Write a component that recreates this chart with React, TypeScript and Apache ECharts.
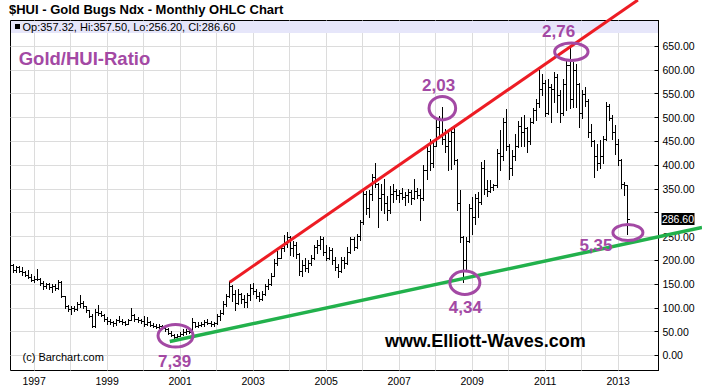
import React, { useEffect, useRef } from "react";
import * as echarts from "echarts";

// ---------- data (monthly bars, first bar = May 1996) ----------
const START_YEAR = 1996;
const START_MONTH = 5;
const AXIS_MIN = 0.25;
const AXIS_MAX = 213.25;

const open = [
  205, 190, 180, 186, 178, 175, 170, 165,
  158, 160, 161, 152, 145, 150, 143, 147, 142, 155, 125, 103,
  98, 100, 97, 108, 110, 103, 95, 84, 62, 92, 90, 86,
  76, 72, 70, 68, 74, 72, 70, 67, 75, 86, 76, 74,
  72, 66, 70, 64, 62, 60, 63, 57, 55, 48, 44, 38,
  42, 46, 50, 52, 50, 70, 62, 65, 66, 70, 68, 66,
  68, 84, 90, 108, 125, 145, 130, 110, 130, 118, 112, 128,
  142, 135, 125, 118, 130, 145, 150, 168, 195, 205, 225, 235,
  250, 225, 232, 214, 178, 190, 184, 194, 205, 228, 232, 244,
  218, 205, 222, 200, 185, 178, 200, 195, 218, 245, 228, 252,
  280, 340, 310, 340, 375, 360, 330, 340, 320, 305, 340, 345,
  338, 342, 333, 338, 344, 330, 345, 338, 330, 390, 430, 405,
  441, 480, 495, 455, 440, 450, 470, 410, 320, 250, 200, 240,
  310, 290, 330, 322, 395, 350, 345, 355, 358, 425, 420, 490,
  440, 395, 420, 440, 482, 470, 478, 450, 490, 515, 530, 560,
  573, 510, 565, 560, 585, 548, 510, 570, 610, 540, 600, 570,
  510, 550, 535, 470, 450, 420, 405, 420, 455, 525, 500, 470,
  445, 410, 360, 357.32,
];
const high = [
  214, 192, 189, 189, 186, 177, 179, 172,
  168, 182, 162, 156, 153, 152, 150, 150, 158, 157, 126, 106,
  104, 103, 112, 127, 115, 104, 96, 87, 98, 106, 93, 88,
  80, 77, 73, 77, 84, 76, 73, 77, 100, 88, 80, 77,
  84, 80, 73, 68, 66, 66, 64, 60, 58, 52, 46, 46,
  49, 56, 55, 56, 78, 71, 70, 70, 74, 77, 73, 70,
  88, 95, 115, 130, 157, 148, 137, 140, 132, 128, 132, 150,
  153, 140, 133, 136, 150, 160, 174, 202, 219, 229, 253, 260,
  252, 240, 238, 216, 200, 205, 200, 212, 232, 242, 252, 248,
  232, 228, 225, 207, 192, 207, 207, 228, 249, 248, 256, 285,
  350, 345, 347, 382, 404, 362, 360, 371, 335, 357, 360, 350,
  347, 352, 343, 350, 348, 371, 352, 350, 400, 440, 455, 452,
  494, 504, 522, 476, 469, 480, 478, 412, 347, 252, 249, 319,
  333, 340, 343, 406, 410, 368, 368, 361, 434, 473, 500, 518,
  445, 431, 466, 492, 502, 505, 480, 500, 520, 540, 599, 592,
  578, 581, 571, 595, 592, 557, 581, 620, 646, 616, 613, 572,
  557, 565, 540, 487, 452, 444, 452, 462, 532, 528, 505, 485,
  455, 412, 365, 357.5,
];
const low = [
  186, 176, 175, 176, 170, 166, 162, 156,
  154, 158, 148, 140, 142, 140, 134, 138, 140, 122, 100, 93,
  88, 94, 96, 101, 100, 92, 80, 59, 60, 85, 82, 73,
  67, 67, 63, 64, 70, 66, 64, 66, 74, 73, 70, 69,
  63, 65, 62, 60, 57, 57, 55, 52, 46, 42, 35.5, 37,
  40, 43, 45, 47, 50, 59, 60, 62, 63, 66, 63, 63,
  66, 74, 88, 105, 122, 115, 95, 108, 110, 102, 102, 116,
  130, 120, 115, 116, 128, 140, 148, 166, 190, 204, 220, 229,
  212, 209, 205, 170, 166, 178, 176, 190, 202, 215, 224, 212,
  200, 203, 193, 179, 165, 175, 183, 193, 215, 221, 226, 242,
  277, 298, 290, 326, 354, 270, 305, 300, 284, 300, 322, 329,
  322, 328, 316, 322, 318, 328, 330, 284, 326, 371, 389, 396,
  441, 459, 445, 427, 389, 392, 403, 305, 238, 154, 178, 238,
  256, 277, 291, 319, 340, 336, 343, 347, 354, 389, 410, 431,
  371, 380, 410, 438, 440, 440, 428, 445, 488, 494, 522, 548,
  504, 508, 490, 532, 511, 490, 505, 515, 520, 522, 522, 480,
  500, 525, 459, 440, 375, 389, 395, 405, 452, 495, 455, 424,
  400, 352, 338, 256.2,
];
const close = [
  190, 180, 186, 178, 175, 170, 165, 158,
  160, 161, 152, 145, 150, 143, 147, 142, 155, 125, 103, 98,
  100, 97, 108, 110, 103, 95, 84, 62, 92, 90, 86, 76,
  72, 70, 68, 74, 72, 70, 67, 75, 86, 76, 74, 72,
  66, 70, 64, 62, 60, 63, 57, 55, 48, 44, 38, 42,
  46, 50, 52, 50, 70, 62, 65, 66, 70, 68, 66, 68,
  84, 90, 108, 125, 145, 130, 110, 130, 118, 112, 128, 142,
  135, 125, 118, 130, 145, 150, 168, 195, 205, 225, 235, 250,
  225, 232, 214, 178, 190, 184, 194, 205, 228, 232, 244, 218,
  205, 222, 200, 185, 178, 200, 195, 218, 245, 228, 252, 280,
  340, 310, 340, 375, 360, 330, 340, 320, 305, 340, 345, 338,
  342, 333, 338, 344, 330, 345, 338, 330, 390, 430, 405, 441,
  480, 495, 455, 440, 450, 470, 410, 320, 250, 200, 240, 310,
  290, 330, 322, 395, 350, 345, 355, 358, 425, 420, 490, 440,
  395, 420, 440, 482, 470, 478, 450, 490, 515, 530, 560, 573,
  510, 565, 560, 585, 548, 510, 570, 610, 540, 600, 570, 510,
  550, 535, 470, 450, 420, 405, 420, 455, 525, 500, 470, 445,
  410, 360, 357.32, 286.6,
];

const gridYears = [1997, 1998, 1999, 2000, 2001, 2002, 2003, 2004, 2005, 2006, 2007, 2008, 2009, 2010, 2011, 2012, 2013];
const labelYears = [1997, 1999, 2001, 2003, 2005, 2007, 2009, 2011, 2013];
const yTicks = [0, 50, 100, 150, 200, 250, 300, 350, 400, 450, 500, 550, 600, 650];
const yLabels = [0, 50, 100, 150, 200, 250, 350, 400, 450, 500, 550, 600, 650];

// ratio annotations: [month index, value] of the circled spot
const ratioNotes = [
  { text: "7,39", at: [54.5, 41.4], rx: 17.5, ry: 11.3, dx: -1, dy: 25.7 },
  { text: "2,03", at: [142.2, 519.6], rx: 13.3, ry: 11.7, dx: -3.7, dy: -22.7 },
  { text: "2,76", at: [184.6, 638.2], rx: 16.7, ry: 8.7, dx: -12.7, dy: -20.3 },
  { text: "4,34", at: [149.6, 152.8], rx: 15, ry: 11.7, dx: 0.5, dy: 24.7 },
  { text: "5,35", at: [203.2, 258.4], rx: 15, ry: 8, dx: -32, dy: 13 },
];
const upperTrend = [[72.3, 154], [168.2, 577.8]];
const lowerTrend = [[52.6, 29.4], [203, 235.5]];

const RED = "#ED1C24";
const GREEN = "#22B14C";
const PURPLE = "#A349A4";
const FONT = '"Liberation Sans", Arial, sans-serif';

const monthIndex = (year: number) => (year - START_YEAR) * 12 + (1 - START_MONTH);
const yearOf = (idx: number) => START_YEAR + Math.floor((idx + START_MONTH - 1) / 12);

export default function App() {
  const ref = useRef<HTMLDivElement>(null);
  useEffect(() => {
    const el = ref.current!;
    const chart = echarts.init(el, null, { renderer: "svg" });
    const last = close.length - 1;
    const ohlc = open.map((o, i) => [i, o, high[i], low[i], close[i]]);
    chart.setOption({
      animation: false,
      backgroundColor: "#fff",
      textStyle: { fontFamily: FONT },
      grid: {
        left: 10.5, right: 43.5, top: 20.5, bottom: 18.5,
        show: true, borderColor: "#000", borderWidth: 1, backgroundColor: "transparent",
      },
      xAxis: {
        type: "value", min: AXIS_MIN, max: AXIS_MAX,
        axisLine: { show: false },
        axisTick: { show: false, customValues: gridYears.map(monthIndex) },
        axisLabel: {
          customValues: labelYears.map(monthIndex),
          formatter: (v: number) => String(yearOf(Math.round(v))),
          color: "#000", fontSize: 10.5, margin: 5, fontFamily: FONT,
        },
        splitLine: { show: true, lineStyle: { color: "#dcdcdc", width: 1 } },
      },
      yAxis: {
        type: "value", position: "right", min: -31.52, max: 703.9,
        axisLine: { show: true, lineStyle: { color: "#000", width: 1 } },
        axisTick: { show: true, inside: true, length: 4, customValues: yTicks, lineStyle: { color: "#000" } },
        axisLabel: {
          customValues: yLabels,
          formatter: (v: number) => v.toFixed(2),
          color: "#000", fontSize: 10.5, margin: 4, fontFamily: FONT,
        },
        splitLine: { show: true, lineStyle: { color: "#dcdcdc", width: 1 } },
      },
      series: [
        {
          type: "custom",
          clip: true,
          data: ohlc,
          encode: { x: 0, y: [1, 2, 3, 4] },
          renderItem: (params: any, api: any) => {
            const i = api.value(0);
            const pO = api.coord([i, api.value(1)]);
            const pH = api.coord([i, api.value(2)]);
            const pL = api.coord([i, api.value(3)]);
            const pC = api.coord([i, api.value(4)]);
            const x = Math.round(pO[0]) + 0.5;
            const snap = (v: number) => Math.round(v) + 0.5;
            const style = { stroke: "#000", lineWidth: 1 };
            return {
              type: "group",
              children: [
                { type: "line", shape: { x1: x, y1: Math.round(pH[1]), x2: x, y2: Math.round(pL[1]) + 1 }, style },
                { type: "line", shape: { x1: x - 2.5, y1: snap(pO[1]), x2: x, y2: snap(pO[1]) }, style },
                { type: "line", shape: { x1: x, y1: snap(pC[1]), x2: x + 2.5, y2: snap(pC[1]) }, style },
              ],
            };
          },
        },
      ],
    });

    const px = (p: number[]) => chart.convertToPixel({ gridIndex: 0 }, p) as number[];
    const W = 702;

    const u1 = px(upperTrend[0]);
    const u2 = px(upperTrend[1]);
    const tU = (0 - u1[1]) / (u2[1] - u1[1]);
    const uEnd = [u1[0] + tU * (u2[0] - u1[0]), 0];

    const l1 = px(lowerTrend[0]);
    const l2 = px(lowerTrend[1]);
    const tL = (W - l1[0]) / (l2[0] - l1[0]);
    const lEnd = [W, l1[1] + tL * (l2[1] - l1[1])];

    const lastY = px([last, close[last]])[1];
    const info = `Op:${open[last].toFixed(2)}, Hi:${high[last].toFixed(2)}, Lo:${low[last].toFixed(2)}, Cl:${close[last].toFixed(2)}`;

    const elements: any[] = [
      { type: "rect", z: 50, shape: { x: 11, y: 21, width: 647, height: 12 }, style: { fill: "#e6e6fa" } },
      { type: "rect", z: 51, shape: { x: 15, y: 24, width: 5, height: 5 }, style: { fill: "#000" } },
      { type: "text", z: 51, x: 22.5, y: 27, style: { text: info, fill: "#000", font: `11px ${FONT}`, textVerticalAlign: "middle" } },
      { type: "text", z: 51, x: 9, y: 9, style: { text: "$HUI - Gold Bugs Ndx - Monthly OHLC Chart", fill: "#000", font: `bold 13px ${FONT}`, textVerticalAlign: "middle" } },
      { type: "text", z: 51, x: 22.5, y: 357, style: { text: "(c) Barchart.com", fill: "#000", font: `11px ${FONT}`, textVerticalAlign: "middle" } },
      { type: "text", z: 51, x: 385, y: 341, style: { text: "www.Elliott-Waves.com", fill: "#000", font: `bold 18px ${FONT}`, textVerticalAlign: "middle" } },
      { type: "text", z: 51, x: 18.7, y: 58, style: { text: "Gold/HUI-Ratio", fill: PURPLE, font: `bold 18.5px ${FONT}`, textVerticalAlign: "middle" } },
      { type: "rect", z: 52, shape: { x: 661.5, y: Math.round(lastY) - 6, width: 33, height: 12 }, style: { fill: "#000" } },
      { type: "text", z: 53, x: 678, y: Math.round(lastY), style: { text: close[last].toFixed(2), fill: "#fff", font: `10.5px ${FONT}`, textAlign: "center", textVerticalAlign: "middle" } },
      { type: "line", z: 60, shape: { x1: u1[0], y1: u1[1], x2: uEnd[0], y2: uEnd[1] }, style: { stroke: RED, lineWidth: 3 } },
      { type: "line", z: 60, shape: { x1: l1[0], y1: l1[1], x2: lEnd[0], y2: lEnd[1] }, style: { stroke: GREEN, lineWidth: 3.5 } },
    ];
    ratioNotes.forEach((n) => {
      const c = px(n.at);
      elements.push({ type: "ellipse", z: 61, shape: { cx: c[0], cy: c[1], rx: n.rx, ry: n.ry }, style: { fill: "none", stroke: PURPLE, lineWidth: 3 } });
      elements.push({ type: "text", z: 61, x: c[0] + n.dx, y: c[1] + n.dy, style: { text: n.text, fill: PURPLE, font: `bold 17px ${FONT}`, textAlign: "center", textVerticalAlign: "middle" } });
    });
    chart.setOption({ graphic: elements });
    return () => chart.dispose();
  }, []);
  return <div ref={ref} style={{ position: "fixed", left: 0, top: 0, width: 702, height: 389, background: "#fff" }} />;
}
